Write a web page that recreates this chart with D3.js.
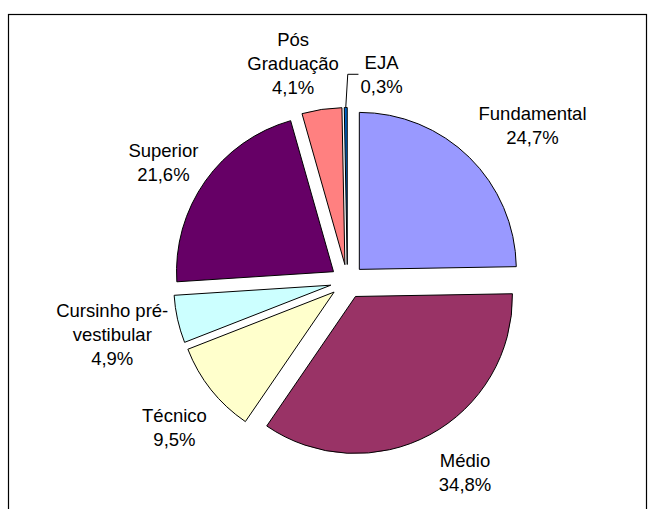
<!DOCTYPE html>
<html>
<head>
<meta charset="utf-8">
<script src="https://cdn.jsdelivr.net/npm/d3@7/dist/d3.min.js"></script>
<style>
  html, body { margin: 0; padding: 0; background: #ffffff; }
  svg { display: block; }
  text { font-family: "Liberation Sans", Arial, Helvetica, sans-serif; font-size: 18.5px; fill: #000; }
</style>
</head>
<body>
<svg id="chart" width="656" height="509"></svg>
<script>
// Escolaridade: share of each level (%)
const categories = ["Fundamental", "Médio", "Técnico", "Cursinho pré-vestibular", "Superior", "Pós Graduação", "EJA"];
const values = [24.7, 34.8, 9.5, 4.9, 21.6, 4.1, 0.3];
const valueLabels = ["24,7%", "34,8%", "9,5%", "4,9%", "21,6%", "4,1%", "0,3%"];
// Category names as wrapped on the chart
const nameLines = [["Fundamental"], ["Médio"], ["Técnico"], ["Cursinho pré-", "vestibular"], ["Superior"], ["Pós", "Graduação"], ["EJA"]];
const colors = ["#9999FF", "#993366", "#FFFFCC", "#CCFFFF", "#660066", "#FF8080", "#0066CC"];

// Label placement around the pie: angle shift from slice middle (deg) and distance from centre
const labelLayout = [
  { shift: 5.4, dist: 242 },
  { shift: -3.4, dist: 224 },
  { shift: -1.6, dist: 226 },
  { shift: -0.1, dist: 241 },
  { shift: -2.2, dist: 219.5 },
  { shift: -5.5, dist: 225 },
  { shift: 9.9, dist: 210 }
];

const svg = d3.select("#chart");
const cx = 347.4, cy = 281.5;     // pie centre
const radius = 157;               // pie radius
const explode = 17;               // offset of every slice from the centre
const lineGap = 24;
const capH = 13.4;

// Chart frame
svg.append("rect")
  .attr("x", 8.5).attr("y", 14.5)
  .attr("width", 638).attr("height", 560)
  .attr("fill", "none").attr("stroke", "#000").attr("stroke-width", 1.2);

const data = categories.map((c, i) => ({ name: c, value: values[i], label: valueLabels[i], lines: nameLines[i], color: colors[i], layout: labelLayout[i] }));

const pie = d3.pie().sort(null).value(d => d.value).startAngle(0).endAngle(2 * Math.PI);
const arc = d3.arc().innerRadius(0).outerRadius(radius);
const arcs = pie(data);

const g = svg.append("g").attr("transform", `translate(${cx},${cy})`);

const dirOf = a => [Math.sin(a), -Math.cos(a)];

g.selectAll("path.slice")
  .data(arcs)
  .join("path")
  .attr("class", "slice")
  .attr("d", arc)
  .attr("transform", d => {
    const [ux, uy] = dirOf((d.startAngle + d.endAngle) / 2);
    return `translate(${ux * explode},${uy * explode})`;
  })
  .attr("fill", d => d.data.color)
  .attr("stroke", "#000")
  .attr("stroke-width", 1)
  .attr("stroke-linejoin", "miter");

// Labels: name lines followed by the percentage, centred on a point outside each slice
arcs.forEach(d => {
  const mid = (d.startAngle + d.endAngle) / 2;
  const a = mid + d.data.layout.shift * Math.PI / 180;
  const [ux, uy] = dirOf(a);
  const lx = ux * d.data.layout.dist;
  const ly = uy * d.data.layout.dist;
  const lines = d.data.lines.concat([d.data.label]);
  const n = lines.length;
  const firstBase = ly - lineGap * (n - 1) / 2 + capH / 2;
  const t = g.append("text").attr("text-anchor", "middle");
  lines.forEach((s, i) => {
    t.append("tspan").attr("x", lx).attr("y", firstBase + i * lineGap).text(s);
  });

  // Leader line for the tiny slice whose label sits off its centre line
  if (d.data.value < 1) {
    const bb = t.node().getBBox();
    const [mx, my] = dirOf(mid);
    const ox = mx * (radius + explode), oy = my * (radius + explode);
    const left = bb.x - 2;
    g.append("path")
      .attr("d", `M${ox},${oy} L${ox + 2},${ly} L${left},${ly}`)
      .attr("fill", "none")
      .attr("stroke", "#000")
      .attr("stroke-width", 1);
  }
});
</script>
</body>
</html>
